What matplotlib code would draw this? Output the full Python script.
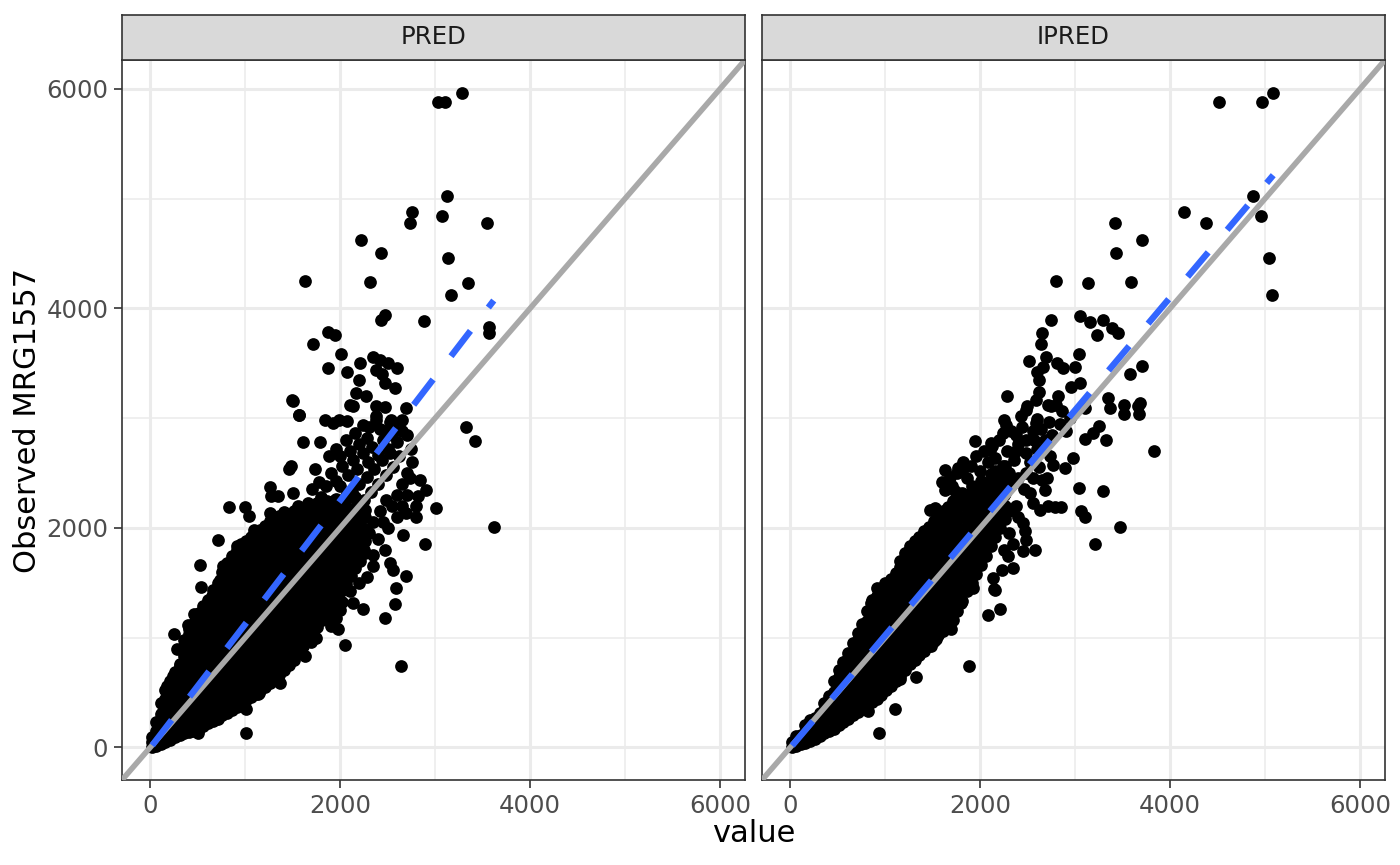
import numpy as np
import pandas as pd
import matplotlib
matplotlib.use("Agg")
import matplotlib.pyplot as plt

# ---- data (value = prediction, obs = observed) ----
# dense core of the PRED cloud, given as columns: (pred, [obs values])
pred_core = [
    (20, [0, 45, 90]),
    (60, [10, 80, 150, 230]),
    (110, [30, 110, 200, 300, 400]),
    (160, [50, 140, 240, 340, 440, 520]),
    (210, [70, 160, 260, 360, 460, 560, 600]),
    (260, [90, 190, 290, 390, 490, 590, 690]),
    (310, [110, 210, 310, 410, 510, 610, 710, 760]),
    (360, [130, 230, 330, 430, 530, 630, 730, 830, 900]),
    (410, [140, 240, 340, 440, 540, 640, 740, 840, 940, 1030]),
    (460, [150, 250, 350, 450, 550, 650, 750, 850, 950, 1050, 1130]),
    (510, [170, 270, 370, 470, 570, 670, 770, 870, 970, 1070, 1170, 1190]),
    (560, [190, 290, 390, 490, 590, 690, 790, 890, 990, 1090, 1190, 1290]),
    (610, [220, 320, 420, 520, 620, 720, 820, 920, 1020, 1120, 1220, 1320, 1340]),
    (660, [240, 340, 440, 540, 640, 740, 840, 940, 1040, 1140, 1240, 1340, 1430]),
    (710, [260, 360, 460, 560, 660, 760, 860, 960, 1060, 1160, 1260, 1360, 1460, 1500]),
    (760, [290, 390, 490, 590, 690, 790, 890, 990, 1090, 1190, 1290, 1390, 1490, 1600]),
    (810, [310, 410, 510, 610, 710, 810, 910, 1010, 1110, 1210, 1310, 1410, 1510, 1610, 1660]),
    (860, [340, 440, 540, 640, 740, 840, 940, 1040, 1140, 1240, 1340, 1440, 1540, 1640, 1740]),
    (910, [370, 470, 570, 670, 770, 870, 970, 1070, 1170, 1270, 1370, 1470, 1570, 1670, 1770, 1800]),
    (960, [400, 500, 600, 700, 800, 900, 1000, 1100, 1200, 1300, 1400, 1500, 1600, 1700, 1800, 1850]),
    (1010, [430, 530, 630, 730, 830, 930, 1030, 1130, 1230, 1330, 1430, 1530, 1630, 1730, 1830, 1880]),
    (1060, [460, 560, 660, 760, 860, 960, 1060, 1160, 1260, 1360, 1460, 1560, 1660, 1760, 1860, 1920]),
    (1110, [490, 590, 690, 790, 890, 990, 1090, 1190, 1290, 1390, 1490, 1590, 1690, 1790, 1890, 1950]),
    (1160, [520, 620, 720, 820, 920, 1020, 1120, 1220, 1320, 1420, 1520, 1620, 1720, 1820, 1920, 1980]),
    (1210, [550, 650, 750, 850, 950, 1050, 1150, 1250, 1350, 1450, 1550, 1650, 1750, 1850, 1950, 2020]),
    (1260, [590, 690, 790, 890, 990, 1090, 1190, 1290, 1390, 1490, 1590, 1690, 1790, 1890, 1990, 2060]),
    (1310, [620, 720, 820, 920, 1020, 1120, 1220, 1320, 1420, 1520, 1620, 1720, 1820, 1920, 2020, 2090]),
    (1360, [660, 760, 860, 960, 1060, 1160, 1260, 1360, 1460, 1560, 1660, 1760, 1860, 1960, 2060, 2110]),
    (1410, [700, 800, 900, 1000, 1100, 1200, 1300, 1400, 1500, 1600, 1700, 1800, 1900, 2000, 2100, 2140]),
    (1460, [750, 850, 950, 1050, 1150, 1250, 1350, 1450, 1550, 1650, 1750, 1850, 1950, 2050, 2110]),
    (1510, [800, 900, 1000, 1100, 1200, 1300, 1400, 1500, 1600, 1700, 1800, 1900, 2000, 2100, 2150]),
    (1560, [860, 960, 1060, 1160, 1260, 1360, 1460, 1560, 1660, 1760, 1860, 1960, 2060, 2160, 2200]),
    (1610, [920, 1020, 1120, 1220, 1320, 1420, 1520, 1620, 1720, 1820, 1920, 2020, 2120, 2170]),
    (1660, [990, 1090, 1190, 1290, 1390, 1490, 1590, 1690, 1790, 1890, 1990, 2090, 2190, 2230]),
    (1710, [1050, 1150, 1250, 1350, 1450, 1550, 1650, 1750, 1850, 1950, 2050, 2150, 2180]),
    (1760, [1100, 1200, 1300, 1400, 1500, 1600, 1700, 1800, 1900, 2000, 2100, 2200, 2230]),
    (1810, [1160, 1260, 1360, 1460, 1560, 1660, 1760, 1860, 1960, 2060, 2160, 2180]),
    (1860, [1220, 1320, 1420, 1520, 1620, 1720, 1820, 1920, 2020, 2120, 2240]),
    (1910, [1290, 1390, 1490, 1590, 1690, 1790, 1890, 1990, 2090, 2200]),
    (1960, [1350, 1450, 1550, 1650, 1750, 1850, 1950, 2050, 2150, 2260]),
    (2010, [1420, 1520, 1620, 1720, 1820, 1920, 2020, 2120, 2220]),
    (2060, [1490, 1590, 1690, 1790, 1890, 1990, 2090, 2190, 2290]),
    (2110, [1560, 1660, 1760, 1860, 1960, 2060, 2160, 2280]),
    (2160, [1630, 1740, 1850, 1960, 2070, 2180, 2280]),
    (2210, [1700, 1810, 1920, 2030, 2140, 2220]),
    (2260, [1770, 1880, 1990, 2100, 2160]),
]

# scattered PRED points (pred, obs)
pred_sparse = [
    (3284, 5966), (3028, 5881), (3099, 5881), (3126, 5023), (2755, 4877), (3074, 4844),
    (2731, 4774), (3547, 4774), (2215, 4620), (2426, 4504), (3137, 4459), (1633, 4252),
    (2310, 4240), (3347, 4234), (3165, 4119), (2471, 3937), (2432, 3892), (2884, 3888),
    (3565, 3828), (3572, 3773), (1872, 3783), (1949, 3758), (1711, 3673), (2012, 3585),
    (1872, 3458), (2075, 3421), (2212, 3500), (2201, 3349), (2345, 3561), (2415, 3531),
    (2503, 3506), (2597, 3458), (2380, 3440), (2443, 3403), (2471, 3324), (2576, 3273),
    (1490, 3164), (1567, 3030), (2170, 3227), (2275, 3197), (2099, 3121), (2380, 3106),
    (2468, 3097), (2696, 3091), (1844, 2985), (1991, 2985), (2380, 2985), (2538, 2985),
    (3320, 2918), (3421, 2791), (3617, 2011), (3011, 2178), (2888, 1856), (2836, 2439),
    (2906, 2341), (2818, 2287), (2800, 2196), (2800, 2099), (2688, 2136), (2643, 740),
    (2660, 1938), (2468, 1180), (2573, 1310), (2590, 1453), (2695, 1565), (2520, 1680),
    (2555, 1620), (2468, 1795), (2240, 1256), (2135, 1316), (2047, 934), (1977, 1074),
    (1959, 1180), (1627, 831), (1696, 958), (1591, 967), (1364, 589), (1381, 740),
    (1006, 134), (1006, 346), (1136, 482),
    (522, 1665), (533, 1459), (715, 1893), (831, 2190), (995, 2190), (1037, 2111),
    (768, 1656), (460, 1219), (393, 1113), (249, 1028), (284, 892), (358, 976),
    (557, 1080), (242, 649), (1609, 2778), (1732, 2536), (1465, 2536), (1486, 2560),
    (1258, 2372), (1276, 2287), (1504, 2318), (1563, 3030), (1924, 2954), (2072, 2970),
    (2240, 2939), (2380, 3015), (1784, 2782), (1504, 3160), (2135, 3106), (2520, 2960),
    (2653, 2878),
    (1700, 2350), (1780, 2420), (1850, 2380), (1900, 2500), (1960, 2430), (2020, 2560),
    (2080, 2480), (2130, 2620), (2180, 2540), (2240, 2680), (2290, 2600), (2340, 2740),
    (2400, 2660), (2450, 2800), (2500, 2720), (2550, 2850), (2600, 2780), (2620, 2650),
    (2560, 2550), (2480, 2480), (2400, 2400), (2320, 2330), (2250, 2250), (2180, 2180),
    (2100, 2100), (2040, 2250), (2120, 2330), (2200, 2400), (2280, 2460), (2360, 2540),
    (2440, 2620), (2520, 2680), (2700, 2500), (2650, 2400), (2600, 2300), (2550, 2200),
    (2480, 2250), (2420, 2150), (2350, 2050), (2300, 1950), (2400, 1900), (2500, 2000),
    (2200, 2000), (2150, 1900), (2250, 1800), (2350, 1750), (1950, 2250), (2000, 2380),
    (1800, 2280), (1880, 2650), (1960, 2720), (2060, 2800), (2160, 2860), (2280, 2820),
    (2200, 2760), (2100, 2700), (2000, 2650), (2300, 2920), (2420, 2900), (2500, 2880),
    (2560, 2950), (2650, 2980), (2700, 2850), (2750, 2720), (2760, 2600), (2730, 2450),
    (2700, 2300), (2650, 2200), (2600, 2100), (2450, 2050), (2350, 1650), (2280, 1550),
    (2200, 1500), (2150, 1650), (2050, 1550), (2100, 1420), (2000, 1450), (1850, 1300),
    (1900, 1200), (2020, 1320),
    (500, 134), (690, 255), (900, 376), (1140, 498), (1310, 619), (1390, 740),
    (1560, 862), (1630, 983), (1750, 1000), (1900, 1104), (1850, 1200), (2000, 1250),
    (123, 316), (176, 558), (316, 740), (386, 922), (410, 1074), (509, 1225),
    (649, 1377), (737, 1529), (807, 1680), (912, 1832), (1087, 1984), (1262, 2135),
    (1350, 2287),
]

# dense core of the IPRED cloud: (ipred, [obs values])
ipred_core = [
    (20, [0, 50]),
    (60, [10, 100]),
    (110, [30, 110]),
    (160, [40, 140, 200]),
    (210, [60, 160, 250]),
    (260, [80, 180, 270]),
    (310, [100, 200, 310]),
    (360, [130, 240, 340, 400]),
    (410, [150, 260, 370, 470]),
    (460, [170, 280, 390, 500, 600]),
    (510, [200, 310, 420, 530, 640, 700]),
    (560, [230, 340, 450, 560, 670, 780]),
    (610, [260, 370, 480, 590, 700, 810, 860]),
    (660, [290, 400, 510, 620, 730, 840, 950]),
    (710, [320, 430, 540, 650, 760, 870, 980, 1040]),
    (760, [350, 460, 570, 680, 790, 900, 1010, 1120]),
    (810, [380, 490, 600, 710, 820, 930, 1040, 1150, 1240]),
    (860, [410, 520, 630, 740, 850, 960, 1070, 1180, 1290, 1340]),
    (910, [440, 550, 660, 770, 880, 990, 1100, 1210, 1320, 1380]),
    (960, [480, 590, 700, 810, 920, 1030, 1140, 1250, 1360, 1430]),
    (1010, [520, 630, 740, 850, 960, 1070, 1180, 1290, 1400, 1470]),
    (1060, [560, 670, 780, 890, 1000, 1110, 1220, 1330, 1440, 1530]),
    (1110, [600, 710, 820, 930, 1040, 1150, 1260, 1370, 1480, 1590]),
    (1160, [650, 760, 870, 980, 1090, 1200, 1310, 1420, 1530, 1640, 1700]),
    (1210, [700, 810, 920, 1030, 1140, 1250, 1360, 1470, 1580, 1690, 1770]),
    (1260, [760, 870, 980, 1090, 1200, 1310, 1420, 1530, 1640, 1750, 1830]),
    (1310, [800, 910, 1020, 1130, 1240, 1350, 1460, 1570, 1680, 1790, 1880]),
    (1360, [840, 950, 1060, 1170, 1280, 1390, 1500, 1610, 1720, 1830, 1920]),
    (1410, [880, 990, 1100, 1210, 1320, 1430, 1540, 1650, 1760, 1870, 1970]),
    (1460, [920, 1030, 1140, 1250, 1360, 1470, 1580, 1690, 1800, 1910, 2010]),
    (1510, [970, 1080, 1190, 1300, 1410, 1520, 1630, 1740, 1850, 1960, 2060]),
    (1560, [1020, 1130, 1240, 1350, 1460, 1570, 1680, 1790, 1900, 2010, 2100]),
    (1610, [1060, 1170, 1280, 1390, 1500, 1610, 1720, 1830, 1940, 2050, 2150]),
    (1660, [1100, 1210, 1320, 1430, 1540, 1650, 1760, 1870, 1980, 2090, 2190]),
    (1710, [1160, 1270, 1380, 1490, 1600, 1710, 1820, 1930, 2040, 2150, 2240]),
    (1760, [1240, 1350, 1460, 1570, 1680, 1790, 1900, 2010, 2120, 2230, 2280]),
    (1810, [1330, 1440, 1550, 1660, 1770, 1880, 1990, 2100, 2210, 2320]),
    (1860, [1420, 1530, 1640, 1750, 1860, 1970, 2080, 2190, 2300]),
    (1910, [1500, 1610, 1720, 1830, 1940, 2050, 2160, 2270, 2380]),
    (1960, [1580, 1690, 1800, 1910, 2020, 2130, 2240, 2350]),
    (2010, [1660, 1770, 1880, 1990, 2100, 2210, 2320, 2430]),
    (2060, [1740, 1850, 1960, 2070, 2180, 2290, 2400]),
    (2110, [1830, 1940, 2050, 2160, 2270, 2380, 2490]),
    (2160, [1920, 2040, 2160, 2280, 2400, 2520]),
    (2210, [2000, 2120, 2240, 2360, 2480]),
    (2260, [2080, 2200, 2320, 2440, 2560]),
]

# scattered IPRED points (ipred, obs)
ipred_sparse = [
    (5086, 5966), (4514, 5881), (4965, 5881), (4878, 5023), (4151, 4877), (4957, 4844),
    (4381, 4774), (3422, 4774), (3701, 4620), (3434, 4504), (5037, 4459), (2796, 4252),
    (3138, 4234), (3593, 4240), (5069, 4119), (2750, 3892), (3049, 3931), (3159, 3879),
    (3297, 3897), (3388, 3819), (3451, 3773), (3225, 3758), (2650, 3773), (2641, 3673),
    (3042, 3585), (2516, 3524), (2691, 3555), (2808, 3506), (2875, 3455), (3000, 3464),
    (2595, 3424), (2620, 3349), (2666, 3467), (3705, 3476), (3580, 3406), (3055, 3324),
    (2958, 3279), (2620, 3237), (2286, 3197), (2816, 3203), (2591, 3166), (3346, 3185),
    (3513, 3121), (3680, 3137), (3659, 3106), (2491, 3106), (2428, 3021), (2595, 2991),
    (2741, 3112), (2866, 3069), (3104, 3091), (2249, 2985),
    (3835, 2696), (3473, 2011), (3210, 1853), (3291, 2332), (3039, 2363), (3063, 2150),
    (3099, 2099), (3326, 2796), (3099, 2809), (3186, 2863), (3256, 2924), (3519, 3040),
    (3677, 3040), (3362, 3090), (2976, 2636), (2888, 2545), (2766, 2575), (2730, 2651),
    (2853, 2190), (2783, 2190), (2713, 2200), (2653, 2439), (2678, 2341), (2520, 2318),
    (2555, 2227), (2626, 2166), (2450, 2045), (2468, 1969), (2485, 1893), (2573, 1802),
    (2450, 1787), (2292, 1741), (2345, 1635), (2232, 1620), (2135, 1544), (2152, 1431),
    (1924, 1453), (1906, 1513), (2082, 1210), (2205, 1262), (1879, 740), (1801, 1316),
    (1714, 1256), (1696, 1080), (1627, 1149), (1538, 983), (1486, 922), (1364, 907),
    (1258, 785), (1153, 619), (1322, 643), (1101, 346), (936, 134), (820, 331),
    (2148, 1438), (852, 1316),
    (1627, 2523), (1767, 2545), (1809, 2514), (1627, 2348), (1732, 2332), (1539, 2166),
    (1469, 2166), (1942, 2788), (2117, 2773), (2100, 2712), (2240, 2863), (2275, 2939),
    (2380, 2848), (2380, 2696), (2485, 2796), (2562, 2796), (2590, 2954), (2485, 3075),
    (2713, 3121), (2800, 3121), (908, 1453), (995, 1499), (873, 1316), (1258, 1802),
    (1223, 1772), (1522, 2181), (1433, 1954), (1364, 1893),
    (1600, 2420), (1680, 2460), (1700, 2380), (1760, 2500), (1820, 2600), (1860, 2450),
    (1900, 2560), (1960, 2650), (2000, 2520), (2040, 2700), (2080, 2600), (2120, 2750),
    (2160, 2640), (2200, 2800), (2240, 2560), (2280, 2700), (2320, 2880), (2360, 2620),
    (2400, 2760), (2440, 2920), (2480, 2680), (2520, 2600), (2560, 2880), (2600, 2720),
    (2640, 2900), (2680, 2800), (2720, 2960), (2760, 2850), (2840, 2950), (2900, 2880),
    (2950, 3000), (2300, 2500), (2340, 2400), (2400, 2450), (2460, 2350), (2480, 2500),
    (2560, 2450), (2620, 2550), (2700, 2450), (2200, 2380), (2150, 2250), (2250, 2300),
    (2300, 2150), (2380, 2200), (2100, 2150), (2050, 2050), (2200, 2050), (2150, 1950),
    (2300, 1950), (2350, 1850), (2250, 1800), (2400, 2100),
]

# linear smooth (intercept, slope)
pred_fit = (-5, 1.127)
ipred_fit = (-5, 1.026)

panels = ["PRED", "IPRED"]
x_ticks = [0, 2000, 4000, 6000]
x_minor = [1000, 3000, 5000]
y_label = "Observed MRG1557"
x_label = "value"
lims = (-298, 6263)


def to_frame(core, sparse, name):
    xs, ys = [], []
    for x, col in core:
        xs += [x] * len(col)
        ys += col
    for x, y in sparse:
        xs.append(x)
        ys.append(y)
    return pd.DataFrame({"value": xs, "obs": ys, "panel": name})


df = pd.concat([to_frame(pred_core, pred_sparse, "PRED"),
                to_frame(ipred_core, ipred_sparse, "IPRED")])
fits = {"PRED": pred_fit, "IPRED": ipred_fit}

W, H = 1400, 865
fig = plt.figure(figsize=(W / 200, H / 200), dpi=200)
fig.patch.set_facecolor("white")

lefts = [122, 762]
pw = 623
top, bot = 60, 780

for i, name in enumerate(panels):
    x0 = lefts[i]
    ax = fig.add_axes([x0 / W, 1 - bot / H, pw / W, (bot - top) / H])
    d = df[df["panel"] == name]
    ax.scatter(d["value"], d["obs"], s=21, color="black", linewidths=0, zorder=2)
    ax.axline((0, 0), slope=1, color="#A9A9A9", lw=2.0, zorder=3)
    b0, b1 = fits[name]
    xr = np.array([d["value"].min(), d["value"].max()])
    ax.plot(xr, b0 + b1 * xr, color="#3366FF", lw=2.3, dashes=(5.0, 4.6), zorder=4)

    ax.set_xlim(lims)
    ax.set_ylim(lims)
    ax.set_xticks(x_ticks)
    ax.set_yticks(x_ticks)
    ax.set_xticks(x_minor, minor=True)
    ax.set_yticks(x_minor, minor=True)
    ax.grid(which="major", color="#EBEBEB", lw=1.1)
    ax.grid(which="minor", color="#EBEBEB", lw=0.55)
    ax.set_axisbelow(True)
    ax.tick_params(which="minor", length=0)
    ax.tick_params(which="major", length=2.75, width=0.6, color="#333333",
                   labelsize=8.8, labelcolor="#4D4D4D", pad=2.2)
    for sp in ax.spines.values():
        sp.set_color("#333333")
        sp.set_linewidth(0.6)
    if i > 0:
        ax.tick_params(axis="y", left=False, labelleft=False)

    # facet strip
    sax = fig.add_axes([x0 / W, 1 - top / H, pw / W, 45 / H])
    sax.set_facecolor("#D9D9D9")
    sax.set_xticks([])
    sax.set_yticks([])
    for sp in sax.spines.values():
        sp.set_color("#333333")
        sp.set_linewidth(0.6)
    sax.text(0.5, 0.5, name, ha="center", va="center", fontsize=8.8,
             color="#1A1A1A", transform=sax.transAxes)

fig.text(753.5 / W, 1 - 833 / H, x_label, ha="center", va="center", fontsize=11)
fig.text(28 / W, 1 - 420 / H, y_label, ha="center", va="center",
         rotation=90, fontsize=11)

fig.savefig("out.png", dpi=200, facecolor="white")
